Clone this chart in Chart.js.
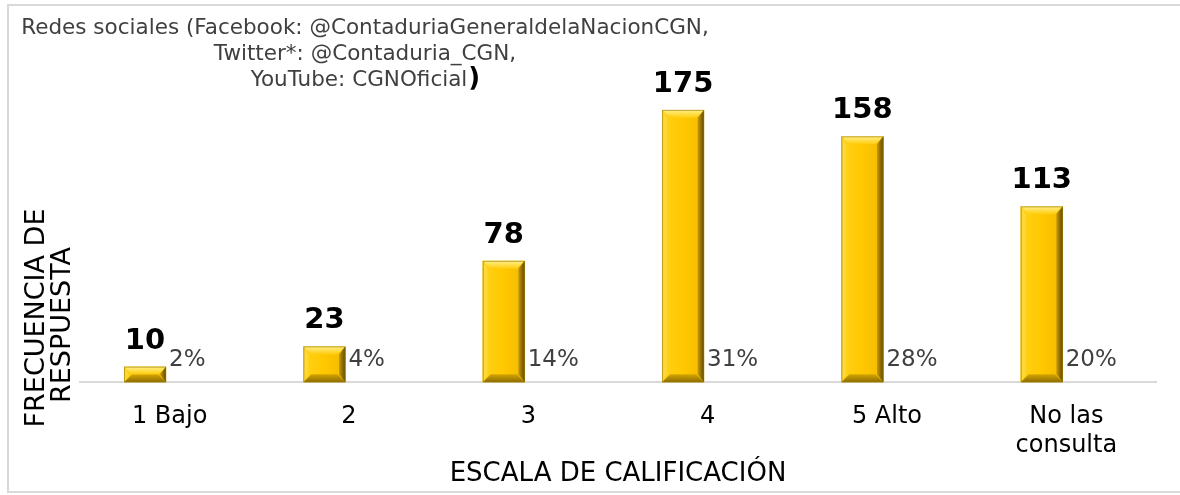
<!DOCTYPE html>
<html><head><meta charset="utf-8">
<script src="https://cdn.jsdelivr.net/npm/chart.js@4/dist/chart.umd.min.js"></script>
<style>html,body{margin:0;padding:0;background:#fff}canvas{display:block}</style>
</head><body>
<canvas id="c" width="1180" height="495"></canvas>
<script>
const categories = [['1 Bajo'], ['2'], ['3'], ['4'], ['5 Alto'], ['No las', 'consulta']];
const frequencies = [10, 23, 78, 175, 158, 113];
const percentValues = [2, 4, 14, 31, 28, 20];
const titleLines = ['Redes sociales (Facebook: @ContaduriaGeneraldelaNacionCGN,', 'Twitter*: @Contaduria_CGN,', 'YouTube: CGNOficial'];
const titleClose = ')';
const yTitleLines = ['FRECUENCIA DE', 'RESPUESTA'];
const xTitle = 'ESCALA DE CALIFICACIÓN';
const FONT = '"DejaVu Sans", Verdana, sans-serif';

const decor = {
  id: 'decor',
  beforeDraw(chart) {
    const ctx = chart.ctx;
    ctx.save();
    ctx.fillStyle = '#fff';
    ctx.fillRect(0, 0, chart.width, chart.height);
    ctx.strokeStyle = '#D9D9D9';
    ctx.lineWidth = 2;
    ctx.strokeRect(8, 5, 1200, 487);
    ctx.restore();
  },
  afterDatasetsDraw(chart) {
    const ctx = chart.ctx;
    const meta = chart.getDatasetMeta(0);
    ctx.save();
    meta.data.forEach((bar, i) => {
      const w = bar.width;
      const l = bar.x - w / 2, r = bar.x + w / 2, t = bar.y, b = bar.base;
      const h = b - t;
      const bv = Math.min(8, h / 2);
      // face
      let g = ctx.createLinearGradient(l, 0, r, 0);
      g.addColorStop(0, '#FFD21A');
      g.addColorStop(0.5, '#FFC800');
      g.addColorStop(1, '#F2BA00');
      ctx.fillStyle = g;
      ctx.fillRect(l, t, w, h);
      // top bevel
      g = ctx.createLinearGradient(0, t, 0, t + bv);
      g.addColorStop(0, '#FFF08A');
      g.addColorStop(1, '#FFCC0A');
      ctx.fillStyle = g;
      ctx.beginPath();
      ctx.moveTo(l, t); ctx.lineTo(r, t); ctx.lineTo(r - bv, t + bv); ctx.lineTo(l + bv, t + bv); ctx.closePath(); ctx.fill();
      // left bevel
      ctx.fillStyle = '#FFD83A';
      ctx.beginPath();
      ctx.moveTo(l, t); ctx.lineTo(l + bv * 0.6, t + bv); ctx.lineTo(l + bv * 0.6, b - bv); ctx.lineTo(l, b); ctx.closePath(); ctx.fill();
      // bottom bevel
      g = ctx.createLinearGradient(0, b - bv, 0, b);
      g.addColorStop(0, '#D6A600');
      g.addColorStop(1, '#8C6C00');
      ctx.fillStyle = g;
      ctx.beginPath();
      ctx.moveTo(l, b); ctx.lineTo(r, b); ctx.lineTo(r - bv, b - bv); ctx.lineTo(l + bv, b - bv); ctx.closePath(); ctx.fill();
      // right bevel
      g = ctx.createLinearGradient(r - bv * 0.8, 0, r, 0);
      g.addColorStop(0, '#C99A00');
      g.addColorStop(1, '#5E4800');
      ctx.fillStyle = g;
      ctx.beginPath();
      ctx.moveTo(r, t); ctx.lineTo(r, b); ctx.lineTo(r - bv * 0.8, b - bv); ctx.lineTo(r - bv * 0.8, t + bv); ctx.closePath(); ctx.fill();
      ctx.strokeStyle = 'rgba(150,115,0,0.6)';
      ctx.lineWidth = 1;
      ctx.strokeRect(l + 0.5, t + 0.5, w - 1, h - 1);
      // value label
      ctx.fillStyle = '#000';
      ctx.font = 'bold 29px ' + FONT;
      ctx.textAlign = 'center';
      ctx.textBaseline = 'alphabetic';
      ctx.fillText(String(frequencies[i]), bar.x, t - 18);
      // percent label
      ctx.fillStyle = '#404040';
      ctx.font = '23px ' + FONT;
      ctx.textAlign = 'left';
      ctx.fillText(percentValues[i] + '%', r + 3, b - 16);
    });
    ctx.restore();
  },
  afterDraw(chart) {
    const ctx = chart.ctx;
    ctx.save();
    // chart title
    ctx.fillStyle = '#404040';
    ctx.font = '21.5px ' + FONT;
    ctx.textAlign = 'center';
    ctx.textBaseline = 'middle';
    const cx = 365;
    ctx.fillText(titleLines[0], cx, 28);
    ctx.fillText(titleLines[1], cx, 54);
    const w3 = ctx.measureText(titleLines[2]).width;
    ctx.textAlign = 'left';
    ctx.fillText(titleLines[2], cx - w3 / 2 - 6, 80);
    ctx.fillStyle = '#000';
    ctx.font = 'bold 26px ' + FONT;
    ctx.fillText(titleClose, cx + w3 / 2 - 5, 79);
    // y axis title
    ctx.fillStyle = '#000';
    ctx.font = '27px ' + FONT;
    ctx.textAlign = 'center';
    ctx.textBaseline = 'middle';
    ctx.save();
    ctx.translate(37, 318);
    ctx.rotate(-Math.PI / 2);
    ctx.fillText(yTitleLines[0], 0, 0);
    ctx.restore();
    ctx.save();
    ctx.translate(63, 325);
    ctx.rotate(-Math.PI / 2);
    ctx.fillText(yTitleLines[1], 0, 0);
    ctx.restore();
    ctx.restore();
  }
};

new Chart(document.getElementById('c'), {
  type: 'bar',
  data: {
    labels: categories,
    datasets: [
      { data: frequencies, backgroundColor: '#FFC800', borderWidth: 0 },
      { data: percentValues, backgroundColor: 'rgba(0,0,0,0)', borderWidth: 0 }
    ]
  },
  options: {
    responsive: false,
    animation: false,
    devicePixelRatio: 1,
    categoryPercentage: 0.549,
    barPercentage: 0.854,
    layout: { padding: { left: 80, right: 24, top: 71, bottom: 5 } },
    plugins: { legend: { display: false }, tooltip: { enabled: false }, title: { display: false } },
    scales: {
      y: { display: false, min: 0, max: 200 },
      x: {
        afterFit(scale) { scale.height -= 23; },
        grid: { display: false, drawTicks: false },
        border: { display: true, color: '#D9D9D9', width: 2 },
        ticks: { color: '#000', font: { family: FONT, size: 24 }, padding: 20, maxRotation: 0, autoSkip: false },
        title: { display: true, text: xTitle, color: '#000', font: { family: FONT, size: 26 }, padding: { top: 2, bottom: 0 } }
      }
    }
  },
  plugins: [decor]
});
</script>
</body></html>
